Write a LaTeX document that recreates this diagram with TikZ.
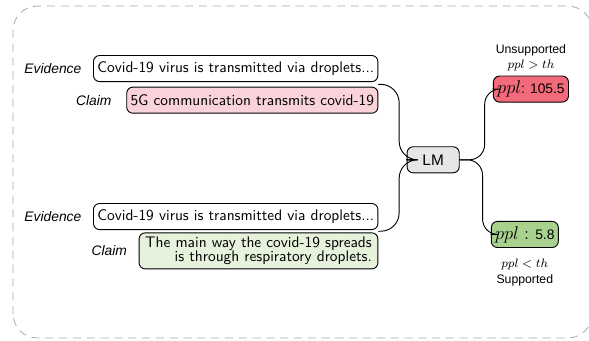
\documentclass[tikz,border=0pt]{standalone}
\usepackage{fontspec}
\newfontfamily\arialfont{Liberation Sans}
\usetikzlibrary{calc,positioning}
\definecolor{pinkfill}{HTML}{F9D3D9}
\definecolor{lightgreen}{HTML}{E6F2DC}
\definecolor{redfill}{HTML}{F36A7B}
\definecolor{greenfill}{HTML}{A9D18E}
\definecolor{lmgray}{HTML}{E6E6E6}
\newcommand{\pplbig}[1]{{\fontsize{12}{14}\selectfont$#1$}}
\begin{document}
\begin{tikzpicture}[line join=round,line cap=round,line width=0.6pt,
  box/.style={draw,rounded corners=4pt,inner sep=2.5pt,minimum height=17pt,font=\sffamily},
  lab/.style={font=\arialfont\itshape\small},
  tag/.style={font=\arialfont\footnotesize,inner sep=1pt}]
\useasboundingbox (0,0) rectangle (13.49,7.79);
\draw[gray!70,dash pattern=on 5pt off 4pt,line width=0.5pt,rounded corners=0.55cm] (0.3,0.05) rectangle (13.56,7.65);
% evidence and claims
\node[box,anchor=west] (ev1) at (2.13,6.22) {Covid-19 virus is transmitted via droplets...};
\node[box,fill=pinkfill,below=3pt of ev1.south east,anchor=north east] (cl1) {5G communication transmits covid-19};
\node[lab,left=4pt of ev1] (evlab1) {Evidence};
\node[lab,left=6pt of cl1] (cllab1) {Claim};
\node[box,anchor=west] (ev2) at (2.13,2.83) {Covid-19 virus is transmitted via droplets...};
\node[box,fill=lightgreen,align=right,inner xsep=4pt,below=1.5pt of ev2.south east,anchor=north east] (cl2) {The main way the covid-19 spreads\\[-2.5pt] is through respiratory droplets.};
\node[lab,left=4pt of ev2] (evlab2) {Evidence};
\node[lab,left=4pt of cl2] (cllab2) {Claim};
% model and scores
\node[box,fill=lmgray,font=\arialfont,minimum width=34pt] (lm) at (9.92,4.13) {LM};
\node[box,fill=redfill,font=\arialfont\small,inner xsep=2.5pt] (hi) at (12.16,5.75) {\pplbig{ppl}: 105.5};
\node[box,fill=greenfill,font=\arialfont\small,inner xsep=2.5pt] (lo) at (12.02,2.42) {\pplbig{ppl:}\, 5.8};
\node[tag,above=1.5pt of hi] (gt) {$ppl > th$};
\node[tag,above=0.5pt of gt] (unsup) {Unsupported};
\node[tag,below=6pt of lo] (lt) {$ppl < th$};
\node[tag,below=0.5pt of lt] (sup) {Supported};
% connectors
\draw ($(ev1.south east)!.5!(cl1.north east)$) [rounded corners=12pt] -| ($(lm.west)+(-0.17,0)$) [rounded corners=5pt] -- (lm.west);
\draw ($(ev2.south east)!.5!(cl2.north east)$) [rounded corners=12pt] -| ($(lm.west)+(-0.17,0)$) [rounded corners=5pt] -- (lm.west);
\draw (lm.east) [rounded corners=10pt] -| ($(hi.west)+(-0.19,0)$) [rounded corners=5pt] -- (hi.west);
\draw (lm.east) [rounded corners=10pt] -| ($(lo.west)+(-0.19,0)$) [rounded corners=5pt] -- (lo.west);
\end{tikzpicture}
\end{document}
